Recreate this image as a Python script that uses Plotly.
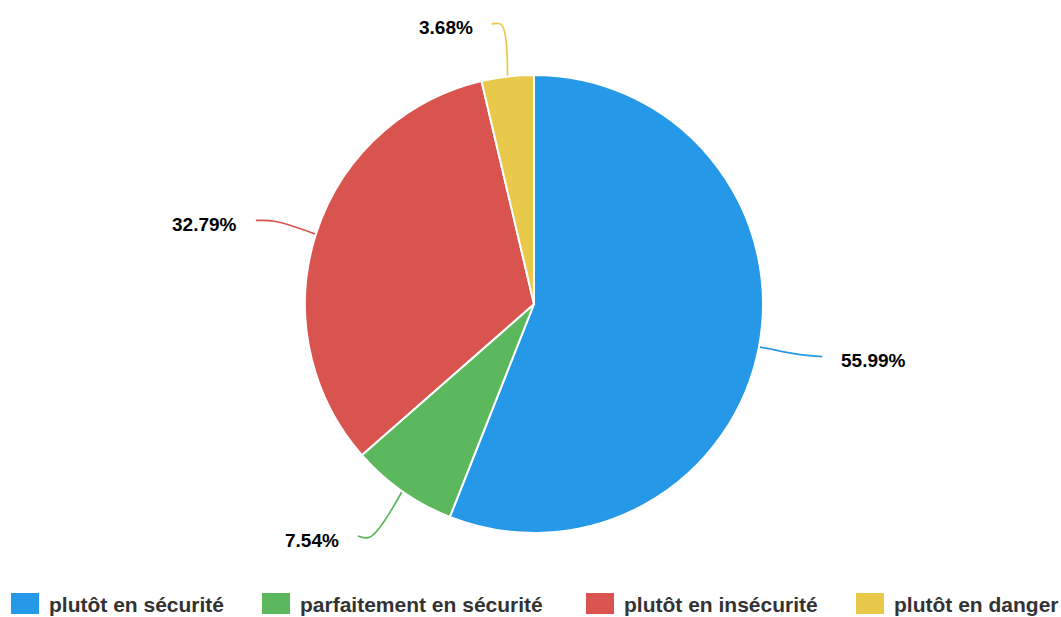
import math
import plotly.graph_objects as go

categories = ["plutôt en sécurité", "parfaitement en sécurité", "plutôt en insécurité", "plutôt en danger"]
values = [55.99, 7.54, 32.79, 3.68]
colors = ["#2598E7", "#5CB85C", "#D9534F", "#E9C94A"]

W, H = 1061, 617
CX, CY, R = 534, 304, 229

# leader line style per slice: radial extension, horizontal run
ext = [42, 56, 42, 52]
run = [22, 12, 20, 10]

fig = go.Figure()

fig.add_trace(go.Pie(
    labels=categories, values=values, sort=False, direction="clockwise", rotation=0,
    marker=dict(colors=colors, line=dict(color="white", width=2)),
    textinfo="none", hoverinfo="label+percent", showlegend=False,
    domain=dict(x=[2 * CX / W - 1, 1], y=[1 - (CY + R) / H, 1 - (CY - R) / H]),
))

total = sum(values)
cum = 0.0
annotations = []
for i, v in enumerate(values):
    mid = (cum + v / 2) / total * 2 * math.pi
    cum += v
    dx, dy = math.sin(mid), -math.cos(mid)
    p0 = (CX + R * dx, CY + R * dy)
    p1 = (CX + (R + ext[i]) * dx, CY + (R + ext[i]) * dy)
    side = 1 if dx >= 0 else -1
    p2 = (p1[0] + side * run[i], p1[1] + (2 if side > 0 else -1))
    fig.add_trace(go.Scatter(
        x=[p0[0], p1[0], p2[0]], y=[p0[1], p1[1], p2[1]], mode="lines",
        line=dict(color=colors[i], width=1.7, shape="spline", smoothing=1.0),
        hoverinfo="skip", showlegend=False, xaxis="x", yaxis="y",
    ))
    annotations.append(dict(
        x=p2[0] + side * 17, y=p2[1] + 4, xref="x", yref="y",
        text="<b>%.2f%%</b>" % (v / total * 100),
        xanchor="left" if side > 0 else "right", yanchor="middle", showarrow=False,
        font=dict(family="Liberation Sans, Arial, sans-serif", size=19, color="#000000"),
    ))

# custom legend
legend_x = [11, 262, 586, 856]
shapes = []
for i, cat in enumerate(categories):
    x0 = legend_x[i]
    shapes.append(dict(type="rect", xref="x", yref="y", x0=x0, x1=x0 + 28, y0=593, y1=614,
                       fillcolor=colors[i], line=dict(width=0)))
    annotations.append(dict(
        x=x0 + 36, y=604, xref="x", yref="y", text="<b>%s</b>" % cat,
        xanchor="left", yanchor="middle", showarrow=False,
        font=dict(family="Liberation Sans, Arial, sans-serif", size=21, color="#333333"),
    ))

fig.update_layout(
    width=W, height=H, margin=dict(l=0, r=0, t=0, b=0),
    paper_bgcolor="white", plot_bgcolor="rgba(0,0,0,0)",
    xaxis=dict(range=[0, W], domain=[0, 1], visible=False, fixedrange=True),
    yaxis=dict(range=[H, 0], domain=[0, 1], visible=False, fixedrange=True),
    annotations=annotations, shapes=shapes, showlegend=False,
)

fig.write_html("out.html", config={"displayModeBar": False},
               post_script="document.body.style.margin='0';document.body.style.overflow='hidden';")
